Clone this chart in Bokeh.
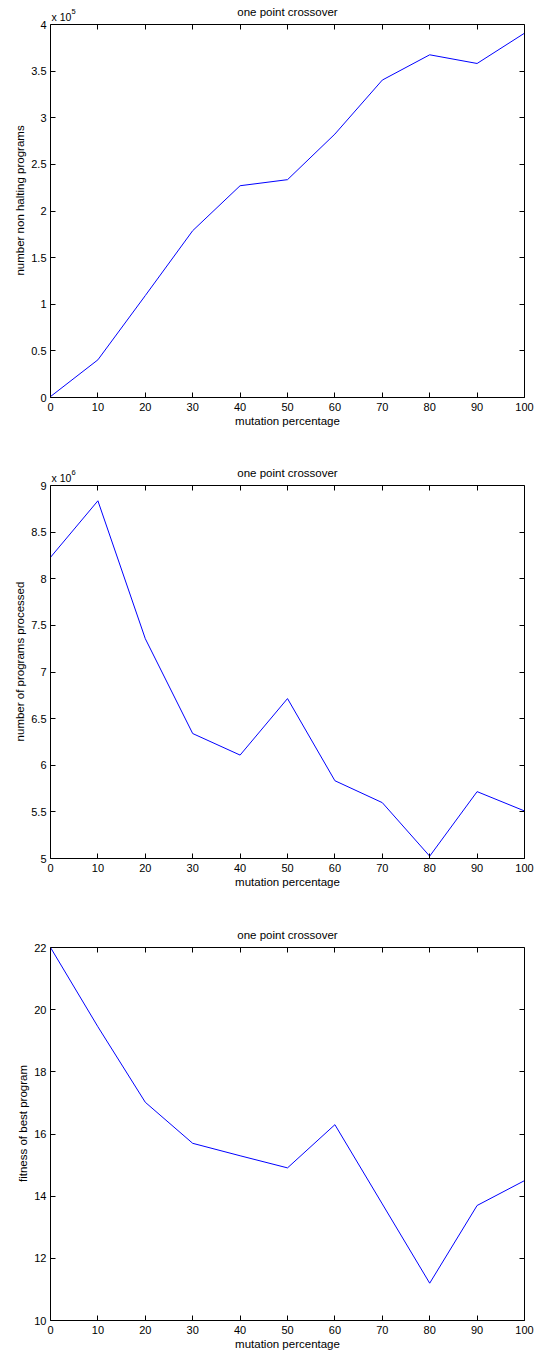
from bokeh.plotting import figure
from bokeh.layouts import column
from bokeh.models import Label, LinearAxis, FixedTicker, CustomJSTickFormatter, Range1d
from bokeh.embed import file_html
from bokeh.resources import INLINE

# ---- data ----
mutation_pct = [0, 10, 20, 30, 40, 50, 60, 70, 80, 90, 100]
non_halting = [1000, 40400, 109300, 178900, 227100, 233600, 282500, 340400, 367500, 358200, 390700]
programs_processed = [8230000, 8836000, 7357000, 6340000, 6109000, 6715000, 5834000, 5599000, 5025000, 5717000, 5510000]
best_fitness = [22.0, 19.45, 17.02, 15.7, 15.3, 14.91, 16.3, 13.75, 11.2, 13.7, 14.5]

x_ticks = [0, 10, 20, 30, 40, 50, 60, 70, 80, 90, 100]
y1_ticks = [0, 50000, 100000, 150000, 200000, 250000, 300000, 350000, 400000]
y2_ticks = [5000000, 5500000, 6000000, 6500000, 7000000, 7500000, 8000000, 8500000, 9000000]
y3_ticks = [10, 12, 14, 16, 18, 20, 22]

title_text = "one point crossover"
x_label = "mutation percentage"
FONT = "Liberation Sans"

BOX_W, BOX_H, EXTRA = 474, 373, 21  # axes box in px, room above box for title


def style_axis(ax, show_labels=True):
    ax.axis_line_color = "black"
    ax.axis_line_width = 1
    ax.major_tick_line_color = "black"
    ax.major_tick_in = 5
    ax.major_tick_out = 0
    ax.minor_tick_line_color = None
    ax.major_label_text_font = FONT
    ax.major_label_text_color = "black"
    ax.axis_label_text_font = FONT
    ax.axis_label_text_font_style = "normal"
    ax.axis_label_text_font_size = "11.5px"
    ax.axis_label_text_color = "black"
    if show_labels:
        ax.major_label_text_font_size = "11px"
        ax.major_label_standoff = 4
    else:
        ax.major_label_text_font_size = "0px"
        ax.major_label_standoff = 0
        ax.formatter = CustomJSTickFormatter(code="return '';")
        ax.major_label_text_color = None


def make_fig(ys, y0, y1, yticks, ylabel, scale, exponent, btop, bbottom):
    y_top = y1 + (y1 - y0) * EXTRA / BOX_H
    p = figure(frame_width=BOX_W, frame_height=BOX_H + EXTRA,
               x_range=Range1d(0, 100), y_range=Range1d(y0, y_top),
               output_backend="svg", toolbar_location=None,
               min_border_left=50, min_border_right=10,
               min_border_top=btop, min_border_bottom=bbottom,
               background_fill_color="white", border_fill_color="white",
               outline_line_color=None)
    p.grid.visible = False
    p.line(mutation_pct, ys, line_color="#0000ff", line_width=1)

    p.xaxis.ticker = FixedTicker(ticks=x_ticks)
    p.yaxis.ticker = FixedTicker(ticks=yticks)
    p.yaxis.bounds = (y0, y1)
    if scale != 1:
        p.yaxis.formatter = CustomJSTickFormatter(
            args=dict(s=scale),
            code="return String(Math.round(tick / s * 10) / 10);")
    for ax in p.xaxis + p.yaxis:
        style_axis(ax)
    p.xaxis.major_label_standoff = 5
    p.xaxis.axis_label = x_label
    p.xaxis.axis_label_standoff = 1
    p.yaxis.axis_label = ylabel
    p.yaxis.axis_label_standoff = 2

    top = LinearAxis(ticker=FixedTicker(ticks=x_ticks), fixed_location=y1)
    style_axis(top, show_labels=False)
    p.add_layout(top, "above")
    right = LinearAxis(ticker=FixedTicker(ticks=yticks), bounds=(y0, y1))
    style_axis(right, show_labels=False)
    p.add_layout(right, "right")

    p.add_layout(Label(x=50, y=y1, text=title_text, text_align="center",
                       text_baseline="alphabetic", y_offset=13,
                       text_font=FONT, text_font_size="11.5px", text_color="black"))
    if exponent:
        p.add_layout(Label(x=0, y=y1, text="x 10", text_align="left",
                           text_baseline="alphabetic", x_offset=1, y_offset=8,
                           text_font=FONT, text_font_size="10.5px", text_color="black"))
        p.add_layout(Label(x=0, y=y1, text=exponent, text_align="left",
                           text_baseline="alphabetic", x_offset=21, y_offset=13,
                           text_font=FONT, text_font_size="7.5px", text_color="black"))
    return p


p1 = make_fig(non_halting, 0, 400000, y1_ticks, "number non halting programs", 1e5, "5", 3, 67)
p2 = make_fig(programs_processed, 5000000, 9000000, y2_ticks, "number of programs processed", 1e6, "6", 0, 68)
p3 = make_fig(best_fitness, 10, 22, y3_ticks, "fitness of best program", 1, None, 0, 32)

layout = column(p1, p2, p3, spacing=0)
open("out.html", "w").write(file_html(layout, INLINE))
